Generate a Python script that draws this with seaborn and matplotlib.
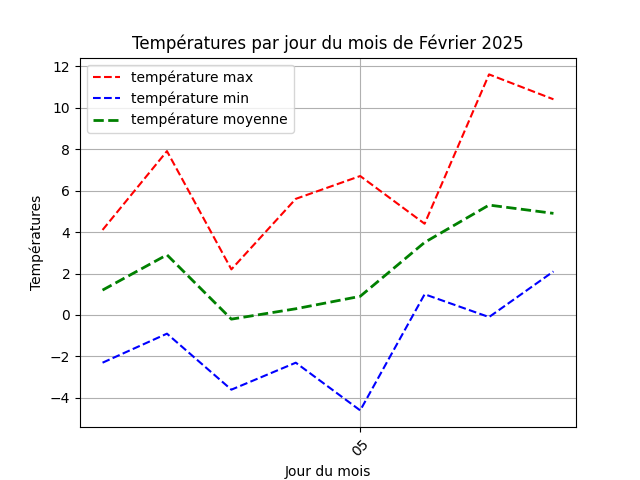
import matplotlib

matplotlib.use("Agg")
import matplotlib.dates as mdates
import matplotlib.pyplot as plt
import pandas as pd
import seaborn as sns

jours = pd.date_range("2025-02-01", periods=8, freq="D")
temp_max = [4.1, 7.9, 2.2, 5.6, 6.7, 4.4, 11.6, 10.4]
temp_min = [-2.3, -0.9, -3.6, -2.3, -4.6, 1.0, -0.1, 2.1]
temp_moy = [1.2, 2.9, -0.2, 0.3, 0.9, 3.5, 5.3, 4.9]

df = pd.DataFrame({"jour": jours, "max": temp_max, "min": temp_min, "moy": temp_moy})

fig, ax = plt.subplots(figsize=(6.4, 4.8), dpi=100)
sns.lineplot(data=df, x="jour", y="max", color="red", linestyle="--", lw=1.5,
             label="température max", ax=ax)
sns.lineplot(data=df, x="jour", y="min", color="blue", linestyle="--", lw=1.5,
             label="température min", ax=ax)
sns.lineplot(data=df, x="jour", y="moy", color="green", linestyle="--", lw=2,
             label="température moyenne", ax=ax)

ax.xaxis.set_major_locator(mdates.DayLocator(bymonthday=[5]))
ax.xaxis.set_major_formatter(mdates.DateFormatter("%d"))
plt.setp(ax.get_xticklabels(), rotation=45)
ax.set_title("Températures par jour du mois de Février 2025")
ax.set_xlabel("Jour du mois")
ax.set_ylabel("Températures")
ax.grid(True)
ax.legend(loc="upper left")

fig.savefig("out.png", dpi=100)
plt.close(fig)
